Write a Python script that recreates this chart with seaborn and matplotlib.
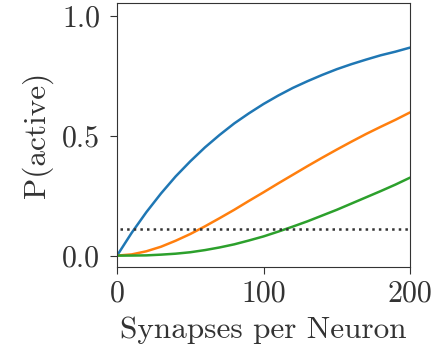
import numpy as np
import pandas as pd
import matplotlib
matplotlib.use("Agg")
import matplotlib.pyplot as plt
import seaborn as sns

# Data
synapses = [0, 10, 20, 30, 40, 50, 60, 70, 80, 90, 100, 110, 120, 130, 140, 150, 160, 170, 180, 190, 200]
p_one = [0.0, 0.095, 0.181, 0.259, 0.330, 0.393, 0.451, 0.503, 0.551, 0.593, 0.632,
         0.667, 0.699, 0.727, 0.753, 0.777, 0.798, 0.817, 0.835, 0.850, 0.867]
p_two = [0.0, 0.005, 0.018, 0.037, 0.062, 0.090, 0.122, 0.156, 0.191, 0.228, 0.264,
         0.301, 0.337, 0.373, 0.408, 0.442, 0.475, 0.507, 0.537, 0.566, 0.597]
p_three = [0.0, 0.0002, 0.001, 0.004, 0.008, 0.014, 0.023, 0.034, 0.047, 0.063, 0.080,
           0.100, 0.121, 0.143, 0.167, 0.191, 0.217, 0.243, 0.269, 0.296, 0.325]
threshold = 0.111
xticks = [0, 100, 200]
yticks = [0.0, 0.5, 1.0]

df = pd.DataFrame({
    "x": synapses * 3,
    "y": p_one + p_two + p_three,
    "series": ["one"] * len(synapses) + ["two"] * len(synapses) + ["three"] * len(synapses),
})

sns.set_style("ticks")
plt.rcParams["font.family"] = ["cmr10"]
plt.rcParams["mathtext.fontset"] = "cm"
plt.rcParams["axes.formatter.use_mathtext"] = True

fig = plt.figure(figsize=(4.4, 3.56), dpi=100)
ax = fig.add_axes([0.266, 0.251, 0.666, 0.740])

pal = sns.color_palette("tab10", 3)
sns.lineplot(data=df, x="x", y="y", hue="series", palette=pal, ax=ax,
             linewidth=1.8, legend=False)
ax.axhline(threshold, xmin=0.01, xmax=1.0, color="#333333", linestyle=":", linewidth=1.8)

ax.set_xlim(0, 200)
ax.set_ylim(-0.046, 1.052)
ax.set_xticks(xticks)
ax.set_yticks(yticks)
ax.set_xticklabels([str(t) for t in xticks])
ax.set_yticklabels([f"{t:.1f}" for t in yticks])
ax.tick_params(labelsize=21.5, length=5, width=0.8, pad=5, colors="#333333", labelcolor="#333333")
ax.tick_params(axis="y", pad=7)
ax.set_xlabel("Synapses per Neuron", fontsize=22.5, color="#333333", labelpad=6)
ax.set_ylabel("P(active)", fontsize=22.5, color="#333333", labelpad=7)
for s in ax.spines.values():
    s.set_linewidth(0.8)
    s.set_color("#333333")

fig.savefig("out.png", dpi=100)
